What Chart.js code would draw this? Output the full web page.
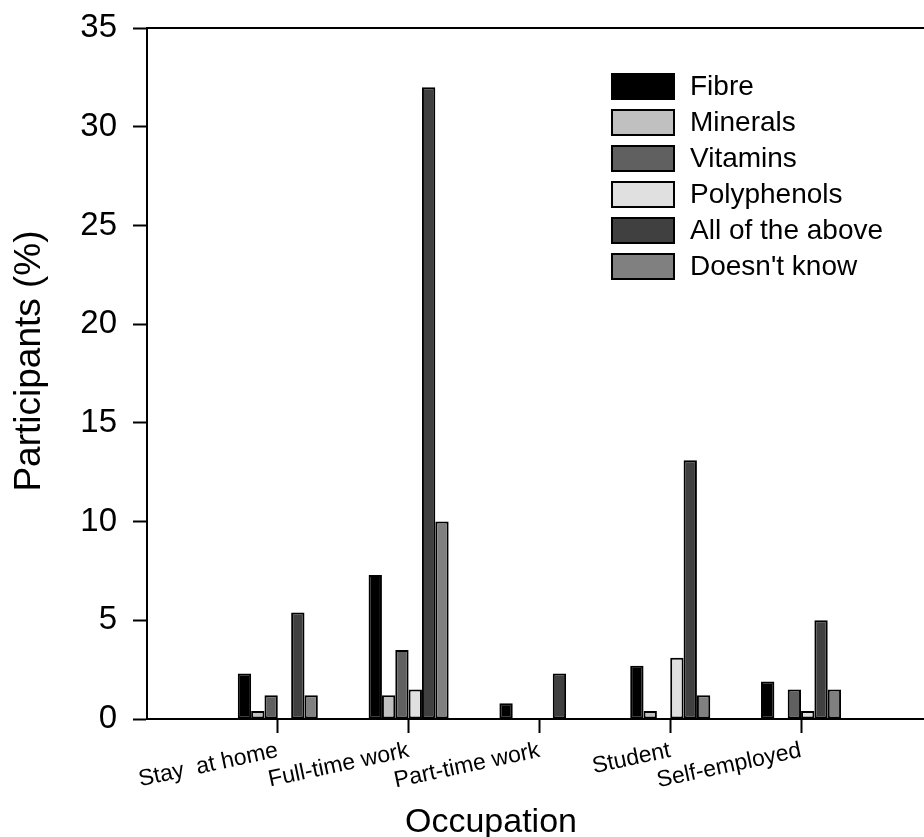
<!DOCTYPE html>
<html>
<head>
<meta charset="utf-8">
<script src="https://cdn.jsdelivr.net/npm/chart.js@4"></script>
<style>
  html, body { margin: 0; padding: 0; background: #fff; overflow: hidden; }
</style>
</head>
<body>
<canvas id="myChart" width="924" height="837"></canvas>
<script>
const categorias = ['Stay  at home', 'Full-time work', 'Part-time work', 'Student', 'Self-employed'];

// valores em % de participantes
const fibra = [2.3, 7.3, 0.8, 2.7, 1.9];
const minerais = [0.4, 1.2, 0, 0.4, 0];
const vitaminas = [1.2, 3.5, 0, 0, 1.5];
const polifenois = [0, 1.5, 0, 3.1, 0.4];
const todos = [5.4, 32, 2.3, 13.1, 5.0];
const naoSabe = [1.2, 10, 0, 1.2, 1.5];

const yTicks = [0, 5, 10, 15, 20, 25, 30, 35];

const tituloX = 'Occupation';
const tituloY = 'Participants (%)';

const fonte = "'Liberation Sans', Arial, sans-serif";

const serie = (label, valores, cor) => ({
    label: label,
    data: valores.map((v, i) => ({ x: i + 1, y: v })),
    backgroundColor: cor,
    borderColor: '#000000',
    borderWidth: 2,
    borderSkipped: false,
    categoryPercentage: 0.612,
    barPercentage: 1.0
});

const data = {
    datasets: [
        serie('Fibre', fibra, '#000000'),
        serie('Minerals', minerais, '#c0c0c0'),
        serie('Vitamins', vitaminas, '#606060'),
        serie('Polyphenols', polifenois, '#e0e0e0'),
        serie('All of the above', todos, '#404040'),
        serie("Doesn't know", naoSabe, '#808080')
    ]
};

// legenda dentro da área do gráfico + títulos dos eixos + linha de cima
const extras = {
    id: 'extras',
    afterDraw(chart) {
        const ctx = chart.ctx;
        const area = chart.chartArea;
        ctx.save();
        ctx.strokeStyle = '#000000';
        ctx.lineWidth = 2;
        ctx.beginPath();
        ctx.moveTo(area.left, area.top);
        ctx.lineTo(area.right, area.top);
        ctx.stroke();

        ctx.font = '28px ' + fonte;
        ctx.textBaseline = 'middle';
        ctx.textAlign = 'left';
        chart.data.datasets.forEach((ds, i) => {
            const cy = 86 + i * 36;
            ctx.fillStyle = ds.backgroundColor;
            ctx.fillRect(612, cy - 12, 62, 25);
            ctx.lineWidth = 2;
            ctx.strokeStyle = '#000000';
            ctx.strokeRect(612, cy - 12, 62, 25);
            ctx.fillStyle = '#000000';
            ctx.fillText(ds.label, 690, cy + 1);
        });

        // títulos
        ctx.fillStyle = '#000000';
        ctx.textAlign = 'center';
        ctx.textBaseline = 'alphabetic';
        ctx.font = '34px ' + fonte;
        ctx.fillText(tituloX, 491, 832);

        ctx.translate(40, 361);
        ctx.rotate(-Math.PI / 2);
        ctx.font = '37px ' + fonte;
        ctx.fillText(tituloY, 0, 0);
        ctx.restore();
    }
};

const config = {
    type: 'bar',
    data: data,
    options: {
        responsive: false,
        animation: false,
        layout: { padding: { top: 28, right: 0, left: 0, bottom: 0 } },
        scales: {
            x: {
                type: 'linear',
                min: 0,
                max: 5.94,
                offset: false,
                afterBuildTicks: scale => {
                    scale.ticks = categorias.map((c, i) => ({ value: i + 1 }));
                },
                afterFit: scale => {
                    scale.height = 118;
                    scale.paddingLeft = 0;
                    scale.paddingRight = 0;
                },
                ticks: {
                    autoSkip: false,
                    minRotation: 12,
                    maxRotation: 12,
                    padding: 4,
                    color: '#000000',
                    font: { family: fonte, size: 23 },
                    callback: value => categorias[value - 1] || ''
                },
                grid: {
                    drawOnChartArea: false,
                    offset: false,
                    tickLength: 14,
                    tickWidth: 2,
                    color: '#000000'
                },
                border: { display: true, color: '#000000', width: 2 }
            },
            y: {
                min: 0,
                max: 35,
                afterBuildTicks: scale => {
                    scale.ticks = yTicks.map(v => ({ value: v }));
                },
                afterFit: scale => {
                    scale.width = 147;
                    scale.paddingTop = 0;
                    scale.paddingBottom = 0;
                },
                ticks: {
                    padding: 16,
                    color: '#000000',
                    font: { family: fonte, size: 33 }
                },
                grid: {
                    drawOnChartArea: false,
                    tickLength: 14,
                    tickWidth: 2,
                    color: '#000000'
                },
                border: { display: true, color: '#000000', width: 2 }
            }
        },
        plugins: {
            legend: { display: false },
            tooltip: { enabled: false }
        }
    },
    plugins: [extras]
};

const myChart = new Chart(
    document.getElementById('myChart'),
    config
);
</script>
</body>
</html>
